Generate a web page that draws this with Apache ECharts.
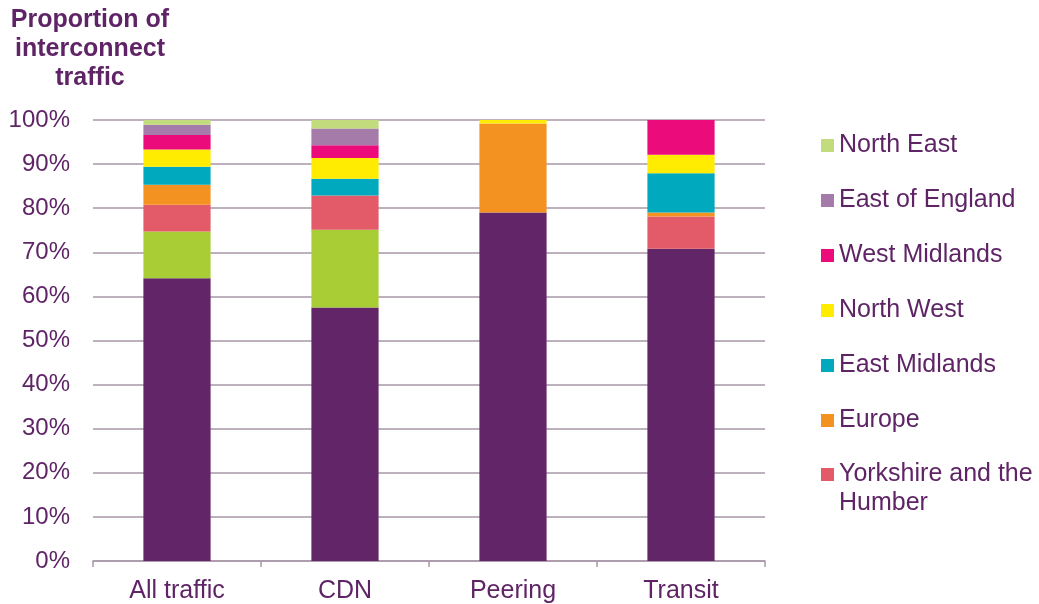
<!DOCTYPE html>
<html>
<head>
<meta charset="utf-8">
<script src="https://cdn.jsdelivr.net/npm/echarts@6/dist/echarts.min.js"></script>
<style>
  html, body { margin: 0; padding: 0; background: #fff; }
  #chart { width: 1039px; height: 604px; }
</style>
</head>
<body>
<div id="chart"></div>
<script>
const categories = ['All traffic', 'CDN', 'Peering', 'Transit'];

// values in % of interconnect traffic, bottom of stack first
const london = [64.1, 57.5, 79.0, 70.8];
const southEast = [10.6, 17.6, 0, 0];
const yorkshire = [6.1, 7.8, 0, 7.3];
const europe = [4.5, 0, 20.2, 0.9];
const eastMidlands = [4.1, 3.8, 0, 8.9];
const northWest = [3.9, 4.7, 0.8, 4.2];
const westMidlands = [3.3, 2.9, 0, 7.9];
const eastOfEngland = [2.3, 3.8, 0, 0];
const northEast = [1.1, 1.9, 0, 0];

const yTicks = [0, 10, 20, 30, 40, 50, 60, 70, 80, 90, 100];

const textColor = '#5f2466';
const lineColor = '#a997a8';
const font = 'Liberation Sans, Arial, sans-serif';

const chart = echarts.init(document.getElementById('chart'));

function bar(name, data, color) {
    return {
        name: name,
        type: 'bar',
        stack: 'total',
        data: data,
        barWidth: '40%',
        itemStyle: { color: color },
        emphasis: { disabled: true }
    };
}

const legendText = {
    fontFamily: font,
    fontSize: 25,
    lineHeight: 29,
    color: textColor
};

const legendBase = {
    orient: 'vertical',
    left: 821,
    padding: 0,
    itemWidth: 13,
    itemHeight: 13,
    itemGap: 26,
    icon: 'rect',
    selectedMode: false,
    textStyle: legendText
};

chart.setOption({
    animation: false,
    textStyle: { fontFamily: font },
    title: {
        text: 'Proportion of\ninterconnect\ntraffic',
        left: 90,
        top: 6,
        textAlign: 'center',
        padding: 0,
        textStyle: {
            fontFamily: font,
            fontSize: 25,
            fontWeight: 'bold',
            lineHeight: 29,
            color: textColor
        }
    },
    legend: [
        Object.assign({}, legendBase, {
            top: 131,
            data: ['North East', 'East of England', 'West Midlands', 'North West',
                'East Midlands', 'Europe']
        }),
        // own legend: a blank first line keeps the swatch level with "Yorkshire and the"
        Object.assign({}, legendBase, {
            top: 431,
            data: ['Yorkshire and the Humber'],
            formatter: function () { return '\nYorkshire and the\nHumber'; }
        })
    ],
    grid: {
        left: 93,
        right: 274,
        top: 120,
        bottom: 43,
        containLabel: false
    },
    xAxis: {
        type: 'category',
        data: categories,
        axisLine: { lineStyle: { color: lineColor, width: 1.5 } },
        axisTick: { show: true, length: 6, lineStyle: { color: lineColor, width: 1.5 } },
        axisLabel: {
            fontFamily: font,
            fontSize: 25,
            color: textColor,
            margin: 18
        }
    },
    yAxis: {
        type: 'value',
        min: yTicks[0],
        max: yTicks[yTicks.length - 1],
        interval: 10,
        axisLine: { show: false },
        axisTick: { show: false },
        splitLine: { lineStyle: { color: lineColor, width: 1.5 } },
        axisLabel: {
            fontFamily: font,
            fontSize: 24,
            color: textColor,
            margin: 23,
            formatter: '{value}%'
        }
    },
    series: [
        bar('London', london, '#622567'),
        bar('South East', southEast, '#a8cd35'),
        bar('Yorkshire and the Humber', yorkshire, '#e35a69'),
        bar('Europe', europe, '#f39220'),
        bar('East Midlands', eastMidlands, '#00a9bd'),
        bar('North West', northWest, '#ffec00'),
        bar('West Midlands', westMidlands, '#ec0b7b'),
        bar('East of England', eastOfEngland, '#a57ca9'),
        bar('North East', northEast, '#c2db7c')
    ]
});
</script>
</body>
</html>
